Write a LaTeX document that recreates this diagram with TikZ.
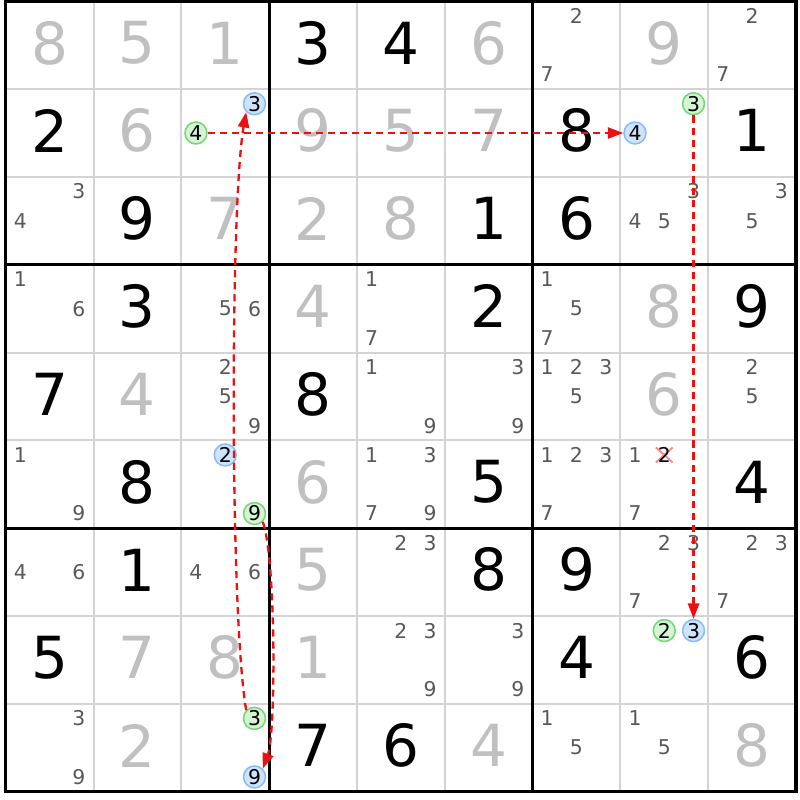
\documentclass[tikz,border=0pt]{standalone}
\usepackage{fontspec}
\setmainfont{DejaVu Sans}
\usepackage{tikz}
\usetikzlibrary{arrows.meta}

\definecolor{fillgray}{RGB}{192,192,192}
\definecolor{candgray}{RGB}{88,88,88}
\definecolor{thingrid}{RGB}{212,212,212}
\definecolor{linkred}{RGB}{238,16,16}
\definecolor{onfill}{RGB}{212,244,212}
\definecolor{ondraw}{RGB}{120,214,120}
\definecolor{offfill}{RGB}{206,228,252}
\definecolor{offdraw}{RGB}{138,188,246}
\definecolor{crossred}{RGB}{255,135,135}

\begin{document}
\begin{tikzpicture}[>={Triangle[length=5pt,width=3.6pt]},
	given/.style = {font=\fontsize{18.8}{18.8}\selectfont, text=black, inner sep=0pt, yshift=0.025cm},
	solved/.style = {given, text=fillgray},
	cand/.style = {font=\fontsize{6.6}{7}\selectfont, text=candgray, inner sep=0pt},
	oncand/.style = {cand, text=black, circle, draw=ondraw, fill=onfill, line width=0.5pt, minimum size=0.25cm},
	offcand/.style = {oncand, draw=offdraw, fill=offfill},
	cross/.style = {draw=crossred, line width=0.6pt},
	link/.style = {->, draw=linkred, line width=0.75pt, dash pattern=on 2.3pt off 1.6pt}
	]
	\useasboundingbox (-0.065,0.015) rectangle (9.046,-9.096);
	\foreach \i in {1,...,8} {
		\draw[thingrid, line width=0.65pt] (\i,0) -- (\i,-9);
		\draw[thingrid, line width=0.65pt] (0,-\i) -- (9,-\i);
	}
	\foreach \i in {3,6} {
		\draw[line width=1pt] (\i,0) -- (\i,-9);
		\draw[line width=1pt] (0,-\i) -- (9,-\i);
	}
	\draw[line width=1pt] (0,0) rectangle (9,-9);
	\foreach \r/\c/\v in {1/4/3, 1/5/4, 2/1/2, 2/7/8, 2/9/1, 3/2/9, 3/6/1, 3/7/6, 4/2/3, 4/6/2, 4/9/9, 5/1/7, 5/4/8, 6/2/8, 6/6/5, 6/9/4, 7/2/1, 7/6/8, 7/7/9, 8/1/5, 8/7/4, 8/9/6, 9/4/7, 9/5/6}
		\node[given] (d\r\c) at (\c-0.5, 0.5-\r) {\v};
	\foreach \r/\c/\v in {1/1/8, 1/2/5, 1/3/1, 1/6/6, 1/8/9, 2/2/6, 2/4/9, 2/5/5, 2/6/7, 3/3/7, 3/4/2, 3/5/8, 4/4/4, 4/8/8, 5/2/4, 5/8/6, 6/4/6, 7/4/5, 8/2/7, 8/3/8, 8/4/1, 9/2/2, 9/6/4, 9/9/8}
		\node[solved] (d\r\c) at (\c-0.5, 0.5-\r) {\v};
	\foreach \r/\c/\ds in {1/7/{2,7}, 1/9/{2,7}, 3/1/{3,4}, 3/8/{3,4,5}, 3/9/{3,5}, 4/1/{1,6}, 4/3/{5,6}, 4/5/{1,7}, 4/7/{1,5,7}, 5/3/{2,5,9}, 5/5/{1,9}, 5/6/{3,9}, 5/7/{1,2,3,5}, 5/9/{2,5}, 6/1/{1,9}, 6/5/{1,3,7,9}, 6/7/{1,2,3,7}, 6/8/{1,7}, 7/1/{4,6}, 7/3/{4,6}, 7/5/{2,3}, 7/8/{2,3,7}, 7/9/{2,3,7}, 8/5/{2,3,9}, 8/6/{3,9}, 9/1/{3,9}, 9/7/{1,5}, 9/8/{1,5}}
		\foreach \d in \ds {
			\pgfmathtruncatemacro\dc{mod(\d-1,3)}
			\pgfmathtruncatemacro\dr{div(\d-1,3)}
			\node[cand] (n\r\c\d) at ({\c-1+(2*\dc+1)/6}, {1-\r-(2*\dr+1)/6}) {\d};
		}
	\coordinate (x682) at (7.5,{-5-1/6});
	\draw[cross] ([shift={(-0.095,0.085)}]x682) -- ([shift={(0.095,-0.085)}]x682);
	\draw[cross] ([shift={(-0.095,-0.085)}]x682) -- ([shift={(0.095,0.085)}]x682);
	\node[cand, text=black] (n682) at (x682) {2};
	\node[oncand]  (n234) at ({2+1/6},-1.5) {4};
	\node[offcand] (n233) at ({2+5/6},{-1-1/6}) {3};
	\node[offcand] (n284) at ({7+1/6},-1.5) {4};
	\node[oncand]  (n283) at ({7+5/6},{-1-1/6}) {3};
	\node[offcand] (n632) at (2.5,{-5-1/6}) {2};
	\node[oncand]  (n639) at ({2+5/6},{-5-5/6}) {9};
	\node[oncand]  (n882) at (7.5,{-7-1/6}) {2};
	\node[offcand] (n883) at ({7+5/6},{-7-1/6}) {3};
	\node[oncand]  (n933) at ({2+5/6},{-8-1/6}) {3};
	\node[offcand] (n939) at ({2+5/6},{-8-5/6}) {9};
	\draw[link] (n234) -- (n284);
	\draw[link] (n283) -- (n883);
	\draw[link] (n639.-45) to[out=-70,in=70,looseness=0.4] (n939.45);
	\draw[link] (n933.135) to[out=100,in=-100,looseness=0.4] (n233.-135);
\end{tikzpicture}
\end{document}
